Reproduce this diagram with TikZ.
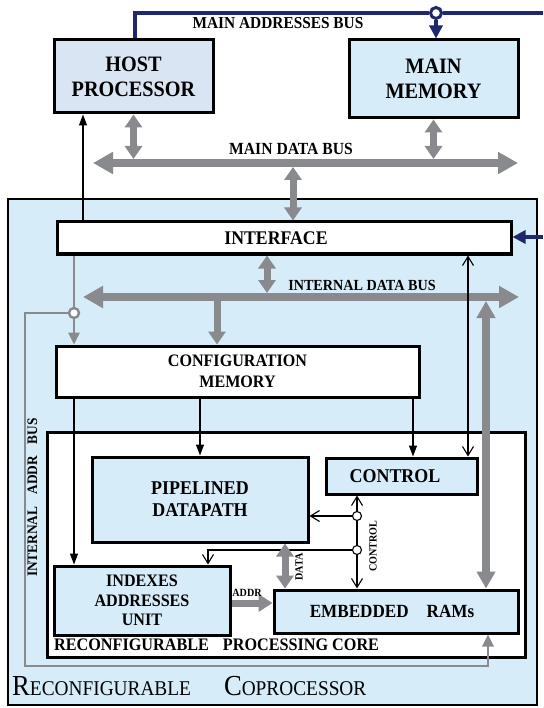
\documentclass[tikz,border=0pt]{standalone}
\usepackage{fontspec}
\setmainfont{Liberation Serif}[FakeStretch=0.92]
\usetikzlibrary{arrows.meta}
\definecolor{lblue}{RGB}{214,236,248}
\definecolor{hostblue}{RGB}{218,229,243}
\definecolor{busgray}{RGB}{137,138,141}
\definecolor{navybus}{RGB}{31,40,110}
\newcommand\fsz[2]{\fontsize{#1}{#2}\selectfont\bfseries}
\tikzset{
  box/.style={draw=black, line width=3pt, inner sep=0pt, align=center},
  bluebox/.style={box, fill=lblue},
  whitebox/.style={box, fill=white},
  lbl/.style={inner sep=0pt, align=center},
  mainbus/.style={draw=busgray, line width=8pt, arrows={Triangle[length=20pt,width=21pt]-Triangle[length=20pt,width=21pt]}},
  vbus/.style={draw=busgray, line width=7pt, arrows={Triangle[length=13pt,width=17pt]-Triangle[length=13pt,width=17pt]}},
  vbusone/.style={draw=busgray, line width=7pt, arrows={-Triangle[length=13pt,width=17pt]}},
  bigbus/.style={draw=busgray, line width=8pt, arrows={Triangle[length=17pt,width=18pt]-Triangle[length=17pt,width=18pt]}},
  gthin/.style={draw=busgray, line width=2.6pt},
  gthinarr/.style={gthin, arrows={-Triangle[length=12pt,width=11pt]}},
  navyline/.style={draw=navybus, line width=3.4pt},
  navyarr/.style={navyline, arrows={-Triangle[length=13pt,width=13pt]}},
  thinarr/.style={draw=black, line width=1.1pt, arrows={-Triangle[length=11pt,width=8pt]}},
  thinline/.style={draw=black, line width=1.1pt},
  openarr/.style={thinline, arrows={-Straight Barb[length=9pt,width=11pt]}},
  opendbl/.style={thinline, arrows={Straight Barb[length=9pt,width=11pt]-Straight Barb[length=9pt,width=11pt]}},
  bjn/.style={circle, draw=black, fill=white, line width=1.1pt, minimum size=9pt, inner sep=0pt},
  gjn/.style={circle, draw=busgray, fill=white, line width=2.4pt, minimum size=10pt, inner sep=0pt},
  njn/.style={circle, draw=navybus, fill=white, line width=3pt, minimum size=11pt, inner sep=0pt}
}
\begin{document}
\begin{tikzpicture}[x=1pt,y=-1pt]
\useasboundingbox (0,0) rectangle (543,708);
\fill[white] (0,0) rectangle (543,708);

% boxes
\node[box, fill=hostblue, minimum width=159pt, minimum height=73pt, font=\fsz{22}{25}] (host) at (133.5,76.5)
  {HOST\\PROCESSOR\hspace{8pt}};
\node[bluebox, minimum width=169pt, minimum height=78pt, font=\fsz{22}{25}] (mem) at (433.5,79)
  {MAIN\\MEMORY\hspace{4pt}};
\node[bluebox, line width=2.6pt, minimum width=529pt, minimum height=506pt] (cop) at (272.5,452) {};
\node[whitebox, minimum width=454pt, minimum height=32pt, font=\fsz{19.3}{22}] (iface) at (284,238)
  {INTERFACE\hspace{16pt}};
\node[whitebox, minimum width=363pt, minimum height=51pt, font=\fsz{17.5}{21}] (cfg) at (237.5,371.5)
  {CONFIGURATION\hspace{9pt}\\MEMORY\hspace{9pt}};
\node[whitebox, minimum width=478pt, minimum height=225pt] (core) at (286,544.5) {};
\node[bluebox, minimum width=216pt, minimum height=85pt, font=\fsz{19.5}{22}] (pipe) at (200,499.5)
  {PIPELINED\hspace{10pt}\\DATAPATH\hspace{10pt}};
\node[bluebox, minimum width=151pt, minimum height=36pt, font=\fsz{19.5}{22}] (ctl) at (401.5,476)
  {CONTROL\hspace{13pt}};
\node[bluebox, minimum width=176pt, minimum height=69pt, font=\fsz{17.5}{19.5}] (idx) at (142,600.5)
  {INDEXES\\ADDRESSES\\UNIT};
\node[bluebox, minimum width=244pt, minimum height=43pt, font=\fsz{18.6}{21}] (ram) at (396,611.5)
  {EMBEDDED\hspace{18pt}RAMs\hspace{8pt}};

% navy address bus
\node[njn] (nj) at (436,13) {};
\coordinate (nvE) at (543,13);
\coordinate (hnav) at ([xshift=1.5pt]host.north);
\draw[navyline] (hnav) |- (nj.west);
\draw[navyline] (nj.east) -- (nvE);
\draw[navyarr] (nj.south) -- (mem.north -| nj);
\coordinate (nvI) at (543,237);
\draw[navyarr] (nvI) -- (iface.east |- nvI);

% main data bus
\coordinate (mdbL) at (93,163);
\coordinate (mdbR) at (518,163);
\coordinate (mdbT) at (300,159);
\coordinate (mdbB) at (293,167);
\draw[mainbus] (mdbL) -- (mdbR);
\draw[vbus] (host.south) -- (host.south |- mdbT);
\draw[vbus] (mem.south) -- (mem.south |- mdbT);
\draw[vbus] (mdbB) -- (iface.north -| mdbB);

% host control arrow
\coordinate (hs) at ([xshift=-50.5pt]host.south);
\draw[thinarr] (iface.north -| hs) -- (hs);

% internal data bus
\coordinate (idbL) at (83,297);
\coordinate (idbR) at (519,297);
\coordinate (ib1) at (267,293);
\coordinate (ib2) at (217,301);
\coordinate (ib3) at (486,301);
\draw[mainbus] (idbL) -- (idbR);
\draw[vbus] (iface.south -| ib1) -- (ib1);
\draw[vbusone] (ib2) -- (cfg.north -| ib2);

% internal addr bus
\node[gjn] (gj) at (74,313) {};
\coordinate (ga1) at (25,313);
\coordinate (ga2) at (25,666);
\coordinate (ga3) at (488,666);
\draw[gthin] (iface.south -| gj) -- (gj);
\draw[gthinarr] (gj) -- (cfg.north -| gj);
\draw[gthinarr] (gj) -- (ga1) -- (ga2) -- (ga3) -- (ram.south -| ga3);

% config memory outputs
\draw[thinarr] (cfg.south -| gj) -- (idx.north -| gj);
\draw[thinarr] (cfg.south -| pipe.north) -- (pipe.north);
\coordinate (cta) at ([xshift=11.5pt]ctl.north);
\draw[thinarr] (cfg.south -| cta) -- (cta);
\coordinate (ctb) at ([xshift=66.5pt]ctl.north);
\draw[opendbl] (iface.south -| ctb) -- (ctb);

% big gray bus to RAMs
\draw[bigbus] (ib3) -- (ram.north -| ib3);

% control bus
\node[bjn] (j1) at (357,516) {};
\node[bjn] (j2) at (357,550) {};
\draw[thinline, arrows={Straight Barb[length=9pt,width=11pt]-}] (ctl.south -| j1) -- (j1);
\draw[thinline] (j1) -- (j2);
\draw[openarr] (j2) -- (ram.north -| j2);
\draw[openarr] (j1) -- (pipe.east |- j1);
\coordinate (jx) at ([xshift=66pt]idx.north);
\draw[openarr] (j2) -| (jx);

% data and addr gray arrows
\coordinate (dx) at (285,560);
\draw[vbus] (pipe.south -| dx) -- (ram.north -| dx);
\coordinate (ay) at (250,603);
\draw[draw=busgray, line width=7pt, arrows={-Triangle[length=14pt,width=17pt]}] (idx.east |- ay) -- (ram.west |- ay);

% labels
\node[lbl, font=\fsz{16.7}{18}] (lmab) at (278,23) {MAIN ADDRESSES BUS};
\node[lbl, font=\fsz{17}{19}] (lmdb) at (291,149) {MAIN DATA BUS};
\node[lbl, font=\fsz{15.4}{17}] (lidb) at (362,285) {INTERNAL DATA BUS};
\node[lbl, font=\fsz{14.5}{16}, rotate=90] (liab) at (32.5,497.5) {INTERNAL\hspace{12pt}ADDR\hspace{12pt}BUS};
\node[lbl, font=\fsz{11}{12}, rotate=90] (ldata) at (299,567) {DATA};
\node[lbl, font=\fsz{11}{12}, rotate=90] (lctl) at (373,546) {CONTROL};
\node[lbl, font=\fsz{11}{12}] (laddr) at (247,593) {ADDR};
\node[lbl, font=\fsz{17.6}{19}, anchor=west] (lrpc) at (54,645) {RECONFIGURABLE\hspace{14pt}PROCESSING CORE};
\node[inner sep=0pt, anchor=base west] (lrc) at (12,695)
  {{\fontsize{29}{30}\selectfont R}{\fontsize{21}{24}\selectfont ECONFIGURABLE}\hspace{33pt}{\fontsize{29}{30}\selectfont C}{\fontsize{21}{24}\selectfont OPROCESSOR}};
\end{tikzpicture}
\end{document}
